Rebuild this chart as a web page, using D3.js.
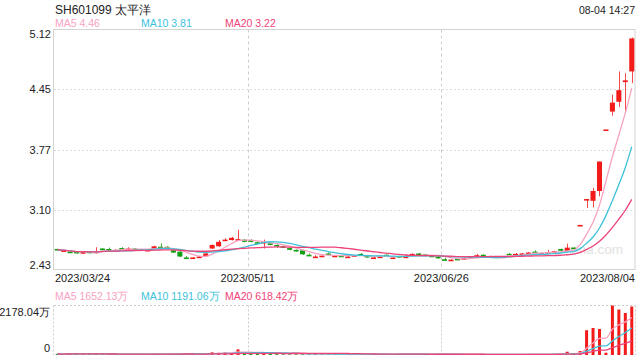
<!DOCTYPE html>
<html><head><meta charset="utf-8">
<script src="https://cdn.jsdelivr.net/npm/d3@7"></script>
<style>
body{margin:0;background:#fff}
svg{display:block;font-family:"Liberation Sans",Arial,sans-serif}
</style>
</head><body><div id="chart"></div>
<script>
var title = "SH601099 太平洋"
var stamp = "08-04 14:27"
var watermark = "sina.com"

var opens = [2.66,2.64,2.63,2.63,2.61,2.63,2.615,2.665,2.66,2.65,
    2.67,2.66,2.665,2.655,2.65,2.665,2.685,2.685,2.645,2.63,
    2.565,2.56,2.57,2.58,2.665,2.69,2.755,2.76,2.765,2.765,
    2.76,2.735,2.735,2.725,2.705,2.69,2.67,2.65,2.645,2.595,
    2.57,2.58,2.61,2.58,2.585,2.57,2.59,2.605,2.585,2.56,
    2.57,2.595,2.56,2.58,2.57,2.60,2.61,2.60,2.585,2.575,
    2.545,2.535,2.55,2.555,2.555,2.59,2.595,2.58,2.575,2.57,
    2.605,2.60,2.605,2.60,2.63,2.615,2.62,2.63,2.66,2.635,
    2.675,2.93,3.22,3.20,3.31,4.00,4.20,4.31,4.53,4.65]
var closes = [2.65,2.645,2.62,2.61,2.625,2.62,2.63,2.66,2.655,2.65,
    2.665,2.665,2.66,2.655,2.65,2.69,2.68,2.68,2.62,2.575,
    2.56,2.565,2.575,2.61,2.705,2.74,2.765,2.785,2.77,2.74,
    2.74,2.72,2.74,2.705,2.695,2.675,2.65,2.635,2.60,2.59,
    2.575,2.585,2.605,2.585,2.58,2.575,2.59,2.60,2.565,2.565,
    2.575,2.59,2.565,2.575,2.575,2.605,2.605,2.595,2.58,2.555,
    2.54,2.54,2.545,2.555,2.575,2.59,2.59,2.58,2.57,2.575,
    2.60,2.605,2.61,2.62,2.625,2.615,2.625,2.635,2.64,2.675,
    2.665,2.93,3.22,3.31,3.64,4.00,4.30,4.44,4.55,5.02]
var highs = [2.665,2.65,2.635,2.635,2.63,2.635,2.68,2.67,2.675,2.655,
    2.68,2.68,2.67,2.66,2.655,2.695,2.725,2.69,2.655,2.635,
    2.58,2.57,2.58,2.615,2.71,2.76,2.78,2.795,2.875,2.77,
    2.77,2.745,2.765,2.73,2.715,2.70,2.675,2.655,2.65,2.61,
    2.59,2.59,2.62,2.59,2.59,2.58,2.595,2.615,2.59,2.57,
    2.58,2.60,2.57,2.585,2.60,2.61,2.615,2.605,2.59,2.58,
    2.56,2.545,2.555,2.56,2.58,2.605,2.60,2.585,2.58,2.58,
    2.615,2.615,2.615,2.625,2.645,2.62,2.65,2.64,2.665,2.72,
    2.68,2.93,3.22,3.345,3.64,4.00,4.39,4.65,4.63,5.03]
var lows = [2.64,2.635,2.615,2.605,2.605,2.61,2.61,2.655,2.65,2.645,
    2.66,2.655,2.655,2.65,2.645,2.66,2.675,2.675,2.615,2.57,
    2.555,2.555,2.565,2.575,2.66,2.685,2.75,2.755,2.76,2.735,
    2.735,2.715,2.665,2.70,2.67,2.67,2.645,2.63,2.595,2.585,
    2.56,2.575,2.59,2.575,2.575,2.565,2.585,2.595,2.56,2.555,
    2.565,2.585,2.555,2.57,2.565,2.595,2.60,2.59,2.575,2.55,
    2.525,2.53,2.54,2.55,2.55,2.575,2.585,2.575,2.565,2.565,
    2.595,2.595,2.60,2.595,2.60,2.61,2.615,2.625,2.635,2.63,
    2.66,2.93,3.12,3.125,3.25,4.00,4.155,4.25,4.20,4.52]
// volume in 万
var volumes = [45,38,52,60,42,40,55,36,33,30,
    34,38,31,28,27,58,48,35,52,75,
    48,40,38,62,117,96,117,88,248,92,
    80,62,70,55,48,45,50,42,60,45,
    40,36,38,32,30,34,30,33,40,28,
    30,32,28,42,30,35,33,30,28,40,
    38,26,25,27,36,30,28,25,27,29,
    30,28,35,40,32,29,36,42,41.8,144,
    52,173.95,1089,1189,1146,100,2178.04,2000,1850,2132.61]

var priceTicks = [2.43, 3.10, 3.77, 4.45, 5.12]
var dateTicks = ["2023/03/24","2023/05/11","2023/06/26","2023/08/04"]
var maDays = [5, 10, 20]
var maColors = ["#f7a2c2", "#3cc2d9", "#ee4379"]
var volMax = 2178.04

var W = 640, H = 360
var left = 54, right = 635
var pTop = 29.5, pBot = 269.5
var vTop = 305.5, vBot = 355

var svg = d3.select("#chart").append("svg").attr("width", W).attr("height", H)

var x = d3.scaleBand().domain(d3.range(closes.length)).range([left, right]).paddingInner(0.22).paddingOuter(0.11)
var y = d3.scaleLinear().domain([priceTicks[0], priceTicks[priceTicks.length-1]]).range([pBot, pTop])
var yv = d3.scaleLinear().domain([0, volMax]).range([vBot, vTop])

function movingAvg(arr, n){
    return arr.map(function(d, i){
        return d3.mean(arr.slice(Math.max(0, i-n+1), i+1))
    })
}

var upColor = "#f31a1a", downColor = "#10a010"
function candleColor(i){ return closes[i] >= opens[i] ? upColor : downColor }

// header texts
svg.append("text").attr("x", 55).attr("y", 14).attr("font-size", 12).attr("fill", "#222").text(title)
svg.append("text").attr("x", 635).attr("y", 14).attr("text-anchor", "end").attr("font-size", 10.5).attr("fill", "#222").text(stamp)

// price panel frame + grid
svg.append("rect").attr("x", left - 0.5).attr("y", pTop).attr("width", right - left + 0.5).attr("height", pBot - pTop)
    .attr("fill", "none").attr("stroke", "#d3d3d3")
priceTicks.slice(1, -1).forEach(function(t){
    svg.append("line").attr("x1", left).attr("x2", right).attr("y1", Math.round(y(t)) + 0.5).attr("y2", Math.round(y(t)) + 0.5)
        .attr("stroke", "#ddd").attr("stroke-dasharray", "2,2")
})
var gridX = dateTicks.slice(1, -1).map(function(d, i){ return left + (right - left) * (i + 1) / (dateTicks.length - 1) })
gridX.forEach(function(gx){
    svg.append("line").attr("x1", Math.round(gx) + 0.5).attr("x2", Math.round(gx) + 0.5).attr("y1", pTop).attr("y2", pBot)
        .attr("stroke", "#ccc").attr("stroke-dasharray", "3,3")
    svg.append("line").attr("x1", Math.round(gx) + 0.5).attr("x2", Math.round(gx) + 0.5).attr("y1", vTop).attr("y2", vBot)
        .attr("stroke", "#ccc").attr("stroke-dasharray", "2,2")
})

// y axis labels
var yAxis = svg.append("g").attr("transform", "translate(51,0)")
    .call(d3.axisLeft(y).tickValues(priceTicks).tickFormat(d3.format(".2f")).tickSize(0).tickPadding(0))
yAxis.select(".domain").remove()
yAxis.selectAll("text").attr("font-size", 11).attr("fill", "#222").attr("font-family", null)
    .attr("dy", function(d, i){ return i == 0 ? "-0.1em" : (i == priceTicks.length - 1 ? "0.75em" : "0.32em") })

// date labels
svg.selectAll(".dateLbl").data(dateTicks).enter().append("text")
    .attr("x", function(d, i){ return left + (right - left) * i / (dateTicks.length - 1) + (i == 0 ? 1 : 0) })
    .attr("y", 282).attr("font-size", 11).attr("fill", "#222")
    .attr("text-anchor", function(d, i){ return i == 0 ? "start" : (i == dateTicks.length - 1 ? "end" : "middle") })
    .text(function(d){ return d })

// watermark
svg.append("text").attr("x", 623).attr("y", 254).attr("text-anchor", "end").attr("font-size", 13.5)
    .attr("fill", "#e2e2e2").text(watermark)

// candles
var idx = d3.range(closes.length)
var cx = function(i){ return x(i) + x.bandwidth() / 2 }
svg.selectAll(".wick").data(idx).enter().append("line")
    .attr("x1", function(i){ return Math.round(cx(i)) + 0.5 }).attr("x2", function(i){ return Math.round(cx(i)) + 0.5 })
    .attr("y1", function(i){ return y(highs[i]) }).attr("y2", function(i){ return y(lows[i]) })
    .attr("stroke", candleColor).attr("stroke-opacity", 0.8)
svg.selectAll(".body").data(idx).enter().append("rect")
    .attr("x", function(i){ return x(i) }).attr("width", x.bandwidth())
    .attr("y", function(i){ return y(Math.max(opens[i], closes[i])) })
    .attr("height", function(i){ return Math.max(1.6, Math.abs(y(opens[i]) - y(closes[i]))) })
    .attr("fill", candleColor)

// price MAs
var priceLine = d3.line().x(function(d, i){ return cx(i) }).y(function(d){ return y(d) }).curve(d3.curveMonotoneX)
maDays.forEach(function(n, k){
    svg.append("path").datum(movingAvg(closes, n)).attr("d", priceLine)
        .attr("fill", "none").attr("stroke", maColors[k]).attr("stroke-width", 1.3)
})

// price legend
var legendX = [55, 141, 225]
maDays.forEach(function(n, k){
    var v = movingAvg(closes, n)
    svg.append("text").attr("x", legendX[k]).attr("y", 27).attr("font-size", 10.5).attr("fill", maColors[k])
        .text("MA" + n + " " + v[v.length - 1].toFixed(2))
})

// volume panel
svg.append("line").attr("x1", left).attr("x2", right).attr("y1", vTop).attr("y2", vTop).attr("stroke", "#ccc").attr("stroke-dasharray", "2,2")
svg.append("line").attr("x1", left - 0.5).attr("x2", left - 0.5).attr("y1", vTop).attr("y2", vBot).attr("stroke", "#ccc").attr("stroke-dasharray", "2,2")
svg.append("line").attr("x1", right + 0.5).attr("x2", right + 0.5).attr("y1", vTop).attr("y2", vBot).attr("stroke", "#ccc").attr("stroke-dasharray", "2,2")

svg.append("text").attr("x", 50).attr("y", 316).attr("text-anchor", "end").attr("font-size", 11).attr("fill", "#222").text(d3.format(".2f")(volMax) + "万")
svg.append("text").attr("x", 50).attr("y", 352).attr("text-anchor", "end").attr("font-size", 11).attr("fill", "#222").text("0")

var vw = 3
svg.selectAll(".vol").data(idx).enter().append("rect")
    .attr("x", function(i){ return cx(i) - vw / 2 }).attr("width", vw)
    .attr("y", function(i){ return Math.min(yv(volumes[i]), vBot - 1) })
    .attr("height", function(i){ return Math.max(1, vBot - yv(volumes[i])) })
    .attr("fill", candleColor)

var volLine = d3.line().x(function(d, i){ return cx(i) }).y(function(d){ return yv(d) }).curve(d3.curveMonotoneX)
maDays.forEach(function(n, k){
    var v = movingAvg(volumes, n)
    svg.append("path").datum(v).attr("d", volLine)
        .attr("fill", "none").attr("stroke", maColors[k]).attr("stroke-width", 1.3)
    svg.append("text").attr("x", legendX[k]).attr("y", 300).attr("font-size", 10.5).attr("fill", maColors[k])
        .text("MA" + n + " " + v[v.length - 1].toFixed(2) + "万")
})
</script>
</body></html>
